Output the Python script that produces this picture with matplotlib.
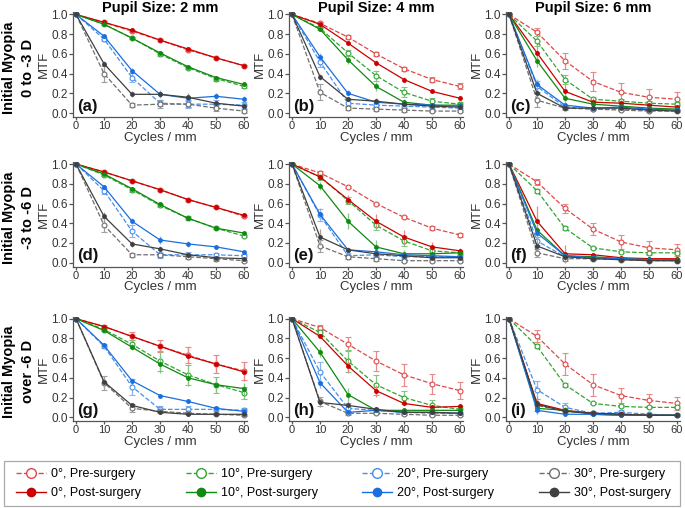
import matplotlib
matplotlib.use("Agg")
import matplotlib.pyplot as plt
from matplotlib.lines import Line2D
from matplotlib.patches import Rectangle

plt.rcParams['font.family'] = ['Liberation Sans', 'DejaVu Sans']

cycles = [0, 10, 20, 30, 40, 50, 60]
angles = ['0°', '10°', '20°', '30°']
pupil_titles = ['Pupil Size: 2 mm', 'Pupil Size: 4 mm', 'Pupil Size: 6 mm']
row_titles = ['Initial Myopia\n0 to -3 D', 'Initial Myopia\n-3 to -6 D', 'Initial Myopia\nover -6 D']
panel_tags = ['(a)', '(b)', '(c)', '(d)', '(e)', '(f)', '(g)', '(h)', '(i)']

# MTF values, one row per angle (0, 10, 20, 30 deg)
a_pre = [[1, 0.92, 0.83, 0.74, 0.64, 0.56, 0.48],
         [1, 0.90, 0.76, 0.60, 0.46, 0.35, 0.27],
         [1, 0.75, 0.36, 0.10, 0.09, 0.09, 0.08],
         [1, 0.40, 0.08, 0.09, 0.09, 0.05, 0.02]]
a_post = [[1, 0.92, 0.84, 0.74, 0.65, 0.56, 0.48],
          [1, 0.90, 0.76, 0.61, 0.47, 0.36, 0.29],
          [1, 0.78, 0.43, 0.19, 0.15, 0.17, 0.14],
          [1, 0.50, 0.19, 0.19, 0.16, 0.10, 0.07]]
b_pre = [[1, 0.91, 0.77, 0.60, 0.45, 0.34, 0.27],
         [1, 0.86, 0.61, 0.38, 0.21, 0.12, 0.09],
         [1, 0.52, 0.10, 0.08, 0.07, 0.06, 0.05],
         [1, 0.21, 0.05, 0.04, 0.03, 0.02, 0.02]]
b_post = [[1, 0.90, 0.71, 0.51, 0.34, 0.22, 0.15],
          [1, 0.85, 0.54, 0.27, 0.11, 0.08, 0.08],
          [1, 0.57, 0.20, 0.11, 0.09, 0.08, 0.07],
          [1, 0.37, 0.14, 0.12, 0.09, 0.07, 0.06]]
c_pre = [[1, 0.82, 0.53, 0.32, 0.21, 0.16, 0.14],
         [1, 0.73, 0.34, 0.14, 0.12, 0.10, 0.09],
         [1, 0.27, 0.06, 0.04, 0.04, 0.03, 0.03],
         [1, 0.13, 0.05, 0.04, 0.03, 0.02, 0.02]]
c_post = [[1, 0.61, 0.22, 0.11, 0.10, 0.08, 0.06],
          [1, 0.53, 0.15, 0.09, 0.07, 0.05, 0.04],
          [1, 0.29, 0.08, 0.05, 0.06, 0.04, 0.03],
          [1, 0.20, 0.05, 0.05, 0.05, 0.03, 0.02]]
d_pre = [[1, 0.92, 0.83, 0.74, 0.64, 0.56, 0.47],
         [1, 0.89, 0.74, 0.58, 0.45, 0.35, 0.27],
         [1, 0.73, 0.32, 0.08, 0.08, 0.08, 0.07],
         [1, 0.38, 0.08, 0.08, 0.06, 0.04, 0.02]]
d_post = [[1, 0.92, 0.83, 0.74, 0.64, 0.56, 0.48],
          [1, 0.90, 0.75, 0.59, 0.45, 0.35, 0.30],
          [1, 0.77, 0.42, 0.23, 0.19, 0.16, 0.11],
          [1, 0.47, 0.19, 0.14, 0.08, 0.05, 0.04]]
e_pre = [[1, 0.91, 0.77, 0.60, 0.46, 0.35, 0.28],
         [1, 0.87, 0.63, 0.38, 0.22, 0.12, 0.10],
         [1, 0.48, 0.07, 0.08, 0.06, 0.06, 0.06],
         [1, 0.17, 0.06, 0.04, 0.02, 0.02, 0.02]]
e_post = [[1, 0.87, 0.64, 0.42, 0.26, 0.16, 0.12],
          [1, 0.78, 0.42, 0.16, 0.09, 0.09, 0.10],
          [1, 0.49, 0.13, 0.11, 0.08, 0.07, 0.06],
          [1, 0.26, 0.13, 0.09, 0.07, 0.05, 0.05]]
f_pre = [[1, 0.82, 0.55, 0.34, 0.21, 0.15, 0.13],
         [1, 0.73, 0.35, 0.15, 0.11, 0.10, 0.10],
         [1, 0.22, 0.06, 0.05, 0.04, 0.03, 0.03],
         [1, 0.10, 0.04, 0.04, 0.03, 0.02, 0.02]]
f_post = [[1, 0.42, 0.09, 0.08, 0.05, 0.04, 0.04],
          [1, 0.33, 0.07, 0.06, 0.04, 0.03, 0.03],
          [1, 0.30, 0.07, 0.05, 0.04, 0.03, 0.02],
          [1, 0.17, 0.06, 0.04, 0.03, 0.02, 0.02]]
g_pre = [[1, 0.92, 0.82, 0.72, 0.63, 0.54, 0.47],
         [1, 0.89, 0.74, 0.57, 0.43, 0.33, 0.25],
         [1, 0.72, 0.31, 0.08, 0.08, 0.08, 0.07],
         [1, 0.35, 0.09, 0.06, 0.04, 0.03, 0.02]]
g_post = [[1, 0.92, 0.82, 0.72, 0.62, 0.54, 0.46],
          [1, 0.88, 0.71, 0.54, 0.40, 0.33, 0.29],
          [1, 0.73, 0.37, 0.22, 0.16, 0.09, 0.06],
          [1, 0.36, 0.12, 0.05, 0.03, 0.03, 0.03]]
h_pre = [[1, 0.91, 0.74, 0.57, 0.43, 0.34, 0.27],
         [1, 0.86, 0.57, 0.33, 0.20, 0.12, 0.08],
         [1, 0.46, 0.09, 0.07, 0.05, 0.04, 0.04],
         [1, 0.16, 0.04, 0.04, 0.03, 0.02, 0.02]]
h_post = [[1, 0.82, 0.52, 0.27, 0.14, 0.10, 0.11],
          [1, 0.66, 0.23, 0.07, 0.07, 0.07, 0.07],
          [1, 0.35, 0.05, 0.07, 0.05, 0.05, 0.04],
          [1, 0.15, 0.12, 0.08, 0.05, 0.05, 0.04]]
i_pre = [[1, 0.82, 0.54, 0.33, 0.22, 0.17, 0.14],
         [1, 0.72, 0.33, 0.14, 0.11, 0.10, 0.10],
         [1, 0.28, 0.10, 0.04, 0.05, 0.03, 0.02],
         [1, 0.12, 0.06, 0.04, 0.03, 0.02, 0.02]]
i_post = [[1, 0.14, 0.07, 0.04, 0.03, 0.02, 0.02],
          [1, 0.09, 0.07, 0.03, 0.02, 0.02, 0.02],
          [1, 0.07, 0.03, 0.03, 0.02, 0.02, 0.02],
          [1, 0.13, 0.06, 0.04, 0.03, 0.02, 0.02]]

# error bar half-widths, same layout
a_pre_err = [[0, .01, .01, .01, .01, .01, .01], [0, .01, .01, .02, .01, .02, .02],
             [0, .02, .05, .03, .04, .04, .03], [0, .08, .02, .04, .03, .03, .02]]
a_post_err = [[0, .01, .01, .01, .01, .01, .01], [0, .01, .01, .01, .01, .02, .02],
              [0, .02, .03, .04, .04, .03, .03], [0, .03, .03, .03, .04, .03, .02]]
b_pre_err = [[0, .01, .02, .02, .02, .03, .03], [0, .02, .03, .05, .05, .03, .02],
             [0, .05, .03, .02, .02, .02, .02], [0, .08, .02, .02, .02, .01, .01]]
b_post_err = [[0, .01, .02, .03, .03, .02, .02], [0, .02, .04, .05, .03, .02, .02],
              [0, .04, .03, .02, .02, .02, .01], [0, .03, .02, .03, .02, .02, .01]]
c_pre_err = [[0, .04, .08, .10, .09, .08, .07], [0, .05, .05, .02, .02, .02, .02],
             [0, .06, .02, .01, .01, .01, .01], [0, .07, .02, .01, .01, .01, .01]]
c_post_err = [[0, .08, .08, .04, .03, .02, .02], [0, .06, .04, .03, .02, .02, .01],
              [0, .06, .03, .02, .02, .01, .01], [0, .04, .02, .02, .02, .01, .01]]
d_pre_err = [[0, .01, .01, .01, .01, .01, .01], [0, .01, .02, .02, .02, .01, .01],
             [0, .03, .06, .03, .03, .02, .02], [0, .07, .02, .02, .02, .02, .01]]
d_post_err = [[0, .01, .01, .01, .01, .01, .01], [0, .01, .02, .02, .02, .01, .01],
              [0, .02, .03, .04, .03, .02, .02], [0, .04, .03, .03, .03, .02, .02]]
e_pre_err = [[0, .02, .01, .01, .01, .02, .02], [0, .03, .04, .05, .05, .03, .02],
             [0, .06, .03, .02, .02, .02, .02], [0, .06, .02, .02, .01, .01, .01]]
e_post_err = [[0, .02, .05, .07, .07, .05, .03], [0, .04, .08, .07, .04, .03, .02],
              [0, .06, .03, .03, .02, .02, .01], [0, .08, .02, .02, .02, .01, .01]]
f_pre_err = [[0, .03, .05, .06, .07, .07, .06], [0, .02, .02, .01, .01, .01, .01],
             [0, .04, .02, .02, .01, .01, .01], [0, .04, .02, .01, .01, .01, .01]]
f_post_err = [[0, .15, .09, .02, .02, .02, .01], [0, .13, .04, .02, .01, .01, .01],
              [0, .04, .03, .02, .02, .01, .01], [0, .03, .02, .02, .01, .01, .01]]
g_pre_err = [[0, .02, .04, .06, .08, .09, .09], [0, .02, .04, .10, .10, .08, .06],
             [0, .02, .08, .03, .03, .02, .02], [0, .07, .04, .02, .01, .01, .01]]
g_post_err = [[0, .02, .04, .06, .08, .09, .09], [0, .02, .03, .09, .08, .08, .06],
              [0, .02, .03, .02, .02, .02, .02], [0, .06, .02, .01, .01, .01, .01]]
h_pre_err = [[0, .03, .07, .10, .11, .10, .09], [0, .04, .11, .10, .07, .05, .03],
             [0, .10, .05, .02, .02, .02, .01], [0, .05, .02, .01, .01, .01, .01]]
h_post_err = [[0, .02, .07, .06, .03, .02, .02], [0, .05, .07, .02, .02, .02, .02],
              [0, .05, .02, .02, .02, .02, .01], [0, .05, .04, .02, .02, .02, .01]]
i_pre_err = [[0, .06, .11, .11, .08, .07, .07], [0, .02, .02, .01, .01, .01, .01],
             [0, .09, .04, .02, .02, .01, .01], [0, .06, .02, .01, .01, .01, .01]]
i_post_err = [[0, .08, .03, .02, .01, .01, .01], [0, .06, .03, .01, .01, .01, .01],
              [0, .04, .02, .01, .01, .01, .01], [0, .06, .02, .01, .01, .01, .01]]

pre_sets = [a_pre, b_pre, c_pre, d_pre, e_pre, f_pre, g_pre, h_pre, i_pre]
post_sets = [a_post, b_post, c_post, d_post, e_post, f_post, g_post, h_post, i_post]
pre_errs = [a_pre_err, b_pre_err, c_pre_err, d_pre_err, e_pre_err, f_pre_err, g_pre_err, h_pre_err, i_pre_err]
post_errs = [a_post_err, b_post_err, c_post_err, d_post_err, e_post_err, f_post_err, g_post_err, h_post_err, i_post_err]

post_colors = ['#CC0000', '#108A10', '#1A6FE0', '#404040']
pre_colors = ['#E04848', '#30A530', '#4A8EEA', '#6E6E6E']
err_colors = ['#E88A8A', '#80C880', '#8AB6F0', '#A0A0A0']

fig = plt.figure(figsize=(6.85, 5.08), dpi=100)

col_left = [0.1069, 0.4222, 0.7390]
row_bottom = [0.7697, 0.4752, 0.1709]
ax_w, ax_h = 0.2534, 0.2057

axis_color = '#555555'
text_color = '#333333'

for r in range(3):
    for c in range(3):
        k = r * 3 + c
        ax = fig.add_axes([col_left[c], row_bottom[r], ax_w, ax_h])
        for j in range(4):
            ax.errorbar(cycles, pre_sets[k][j], yerr=pre_errs[k][j], color=pre_colors[j],
                        ecolor=err_colors[j], elinewidth=0.9, capsize=2.5, capthick=0.9,
                        linestyle='--', linewidth=0.9, marker='o', markersize=3.5,
                        markerfacecolor='white', markeredgecolor=pre_colors[j],
                        markeredgewidth=0.8, zorder=2)
        for j in range(4):
            ax.errorbar(cycles, post_sets[k][j], yerr=post_errs[k][j], color=post_colors[j],
                        ecolor=err_colors[j], elinewidth=0.9, capsize=2.5, capthick=0.9,
                        linestyle='-', linewidth=0.9, marker='o', markersize=3.5,
                        markeredgewidth=0, zorder=3)
        ax.set_xlim(-1, 61)
        ax.set_ylim(-0.04, 1.02)
        ax.set_xticks([0, 10, 20, 30, 40, 50, 60])
        ax.set_yticks([0.0, 0.2, 0.4, 0.6, 0.8, 1.0])
        ax.set_yticklabels(['0.0', '0.2', '0.4', '0.6', '0.8', '1.0'])
        for s in ['top', 'right']:
            ax.spines[s].set_visible(False)
        for s in ['left', 'bottom']:
            ax.spines[s].set_color(axis_color)
            ax.spines[s].set_linewidth(0.9)
        ax.tick_params(axis='both', labelsize=8.5, colors=axis_color, labelcolor=text_color,
                       length=3, width=0.9, pad=1)
        ax.tick_params(axis='x', labelsize=8, length=2.5, pad=0.5)
        ax.set_xlabel('Cycles / mm', fontsize=9.5, color=text_color)
        ax.xaxis.set_label_coords(0.5, -0.14)
        ax.set_ylabel('MTF', fontsize=9.5, color=text_color)
        ax.yaxis.set_label_coords(-0.135, 0.5)
        ax.text(0.02, 0.03, panel_tags[k], transform=ax.transAxes, fontsize=12,
                fontweight='bold', ha='left', va='bottom', color='#111111')
        if r == 0:
            fig.text(col_left[c] + ax_w / 2, 1 - 12 / 508, pupil_titles[c], fontsize=10.5,
                     fontweight='bold', ha='center', va='baseline')

row_centers = [0.867, 0.572, 0.268]
for r in range(3):
    fig.text(0.027, row_centers[r], row_titles[r], rotation=90, fontsize=10.5,
             fontweight='bold', ha='center', va='center', linespacing=1.5)

handles = []
labels = []
for j in range(4):
    handles.append(Line2D([], [], color=pre_colors[j], linestyle='--', linewidth=1,
                          marker='o', markersize=7, markerfacecolor='white',
                          markeredgecolor=pre_colors[j], markeredgewidth=1))
    labels.append(angles[j] + ', Pre-surgery')
    handles.append(Line2D([], [], color=post_colors[j], linestyle='-', linewidth=1,
                          marker='o', markersize=7, markeredgewidth=0))
    labels.append(angles[j] + ', Post-surgery')

# legend frame drawn separately so the entries can spread across it
fig.patches.append(Rectangle((4 / 685, 2 / 508), 676 / 685, 45 / 508, transform=fig.transFigure,
                             facecolor='none', edgecolor='#AAAAAA', linewidth=0.9))
leg = fig.legend(handles, labels, ncol=4, loc='center', mode='expand',
                 bbox_to_anchor=(15 / 685, 8 / 508, 657 / 685, 33 / 508),
                 fontsize=9, frameon=False, handlelength=2.4, handletextpad=0.4,
                 borderpad=0.1, borderaxespad=0, labelspacing=0.55)

fig.savefig('out.png', dpi=100)
